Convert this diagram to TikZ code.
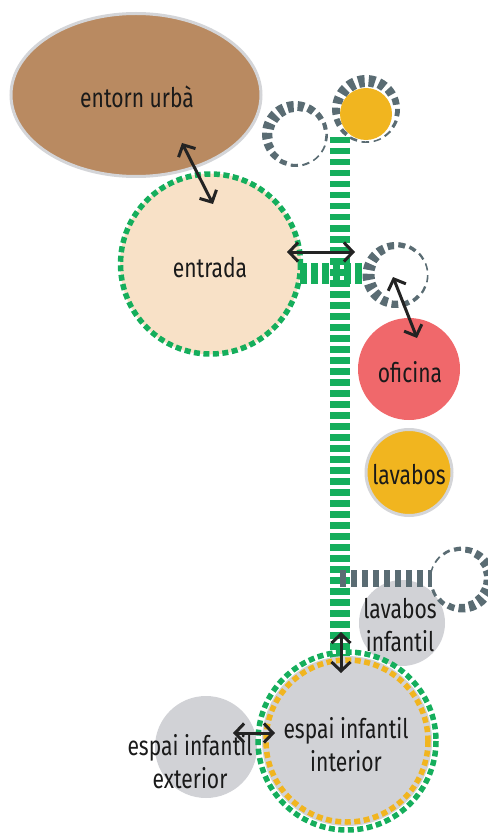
\documentclass[tikz,border=0pt]{standalone}
\usepackage{fontspec}
\setmainfont{Fira Sans}[FakeStretch=0.78]
\usetikzlibrary{arrows.meta,shapes.geometric}
\definecolor{cbrown}{HTML}{B98A61}
\definecolor{cedge}{HTML}{D4D5D8}
\definecolor{cpeach}{HTML}{F8E1C7}
\definecolor{cgreen}{HTML}{15AE5C}
\definecolor{cring}{HTML}{5A6C73}
\definecolor{cgold}{HTML}{F1B51F}
\definecolor{cred}{HTML}{F0686B}
\definecolor{clgray}{HTML}{D1D2D6}
\definecolor{cink}{HTML}{1A1A1A}
\definecolor{carrow}{HTML}{232323}
\newcommand\gradring[4]{%
  \begin{scope}[shift={#1}]
  \foreach \k in {0,...,16}{%
    \pgfmathsetmacro\aa{\k*360/17}
    \pgfmathsetmacro\bb{\aa+360/17*0.62}
    \pgfmathsetmacro\mm{(\aa+\bb)/2}
    \pgfmathsetmacro\ww{1.5+(#4-1.5)*(1+cos(\mm-#3))/2}
    \pgfmathsetmacro\rr{#2-\ww}
    \fill[cring] (\aa:#2) arc[start angle=\aa, end angle=\bb, radius=#2]
      -- (\bb:\rr) arc[start angle=\bb, end angle=\aa, radius=\rr] -- cycle;
  }
  \end{scope}}
\tikzset{
  lbl/.style={text=cink, font=\fontsize{27}{33}\selectfont, align=center, inner sep=0pt},
  disc/.style={circle, inner sep=0pt, text=cink, align=center},
  greenbar/.style={draw=cgreen, line width=20pt, dash pattern=on 6.5pt off 4.5pt},
  graybar/.style={draw=cring, line width=17pt, dash pattern=on 6pt off 5pt},
  greendots/.style={draw=cgreen, line width=5.5pt, dash pattern=on 6pt off 3.5pt},
  golddots/.style={draw=cgold, line width=5.5pt, dash pattern=on 6pt off 3.5pt},
  conn/.style={draw=carrow, line width=3pt, {Straight Barb[length=9pt,width=19pt]}-{Straight Barb[length=9pt,width=19pt]}}
}
\begin{document}
\begin{tikzpicture}[x=1pt,y=-1pt]
\useasboundingbox (0,0) rectangle (487,834);
% entorn urba
\node[ellipse, fill=cbrown, draw=cedge, line width=3pt, minimum width=250pt, minimum height=163pt, inner sep=0pt] (entorn) at (136,95) {};
\node[lbl] (tentorn) at (137,97) {entorn urbà};
% entrada
\node[disc, fill=cpeach, minimum size=181pt] (entrada) at (210.5,264) {};
\draw[greendots] (entrada.center) circle[radius=90];
\node[lbl] (tentrada) at (210,268) {entrada};
% green connection bars
\draw[greenbar] (340,137) -- (340,668);
\draw[greenbar, line width=21pt] (300,273) -- (366,273);
% dashed rings at top
\gradring{(295,134)}{33}{225}{12}
\node[disc, minimum size=40pt] (ringa) at (295,134) {};
\gradring{(366,109)}{34}{255}{12}
\node[disc, fill=cgold, minimum size=52pt] (goldtop) at (366,114) {};
% ring next to oficina
\gradring{(395.5,275)}{33}{175}{12}
\node[disc, minimum size=40pt] (ringb) at (395.5,275) {};
% oficina, lavabos
\node[disc, fill=cred, minimum size=102pt] (oficina) at (409,369) {};
\node[lbl] (toficina) at (410,372) {oficina};
\node[disc, fill=cgold, draw=cedge, line width=3pt, minimum size=86pt] (lavabos) at (409,472.5) {};
\node[lbl] (tlavabos) at (409,475) {lavabos};
% lavabos infantil
\node[disc, fill=clgray, minimum size=86pt] (lavinf) at (402,623) {};
\draw[graybar] (340,578) -- (432,578);
\gradring{(462.5,579.5)}{33}{20}{12}
\node[disc, minimum size=40pt] (ringc) at (462.5,579.5) {};
\node[lbl] (tlavinf) at (400,625) {lavabos\\infantil};
% espai infantil exterior
\node[disc, fill=clgray, minimum size=102pt] (exterior) at (206,747) {};
% espai infantil interior
\node[disc, fill=clgray, minimum size=170pt] (interior) at (347,741) {};
\draw[greendots] (interior.center) circle[radius=89];
\draw[golddots] (interior.center) circle[radius=81];
\node[lbl] (tinterior) at (346,745) {espai infantil\\interior};
\node[lbl] (texterior) at (190,762) {espai infantil\\exterior};
% connectors
\coordinate (a1) at (182,143); \coordinate (a2) at (213,204);
\coordinate (b1) at (287,252); \coordinate (b2) at (355,252);
\coordinate (c1) at (393,277); \coordinate (c2) at (417,338);
\coordinate (d1) at (341,632); \coordinate (d2) at (341,673);
\coordinate (e1) at (233,733); \coordinate (e2) at (275,733);
\draw[conn] (a1) -- (a2);
\draw[conn] (b1) -- (b2);
\draw[conn] (c1) -- (c2);
\draw[conn] (d1) -- (d2);
\draw[conn] (e1) -- (e2);
\end{tikzpicture}
\end{document}
